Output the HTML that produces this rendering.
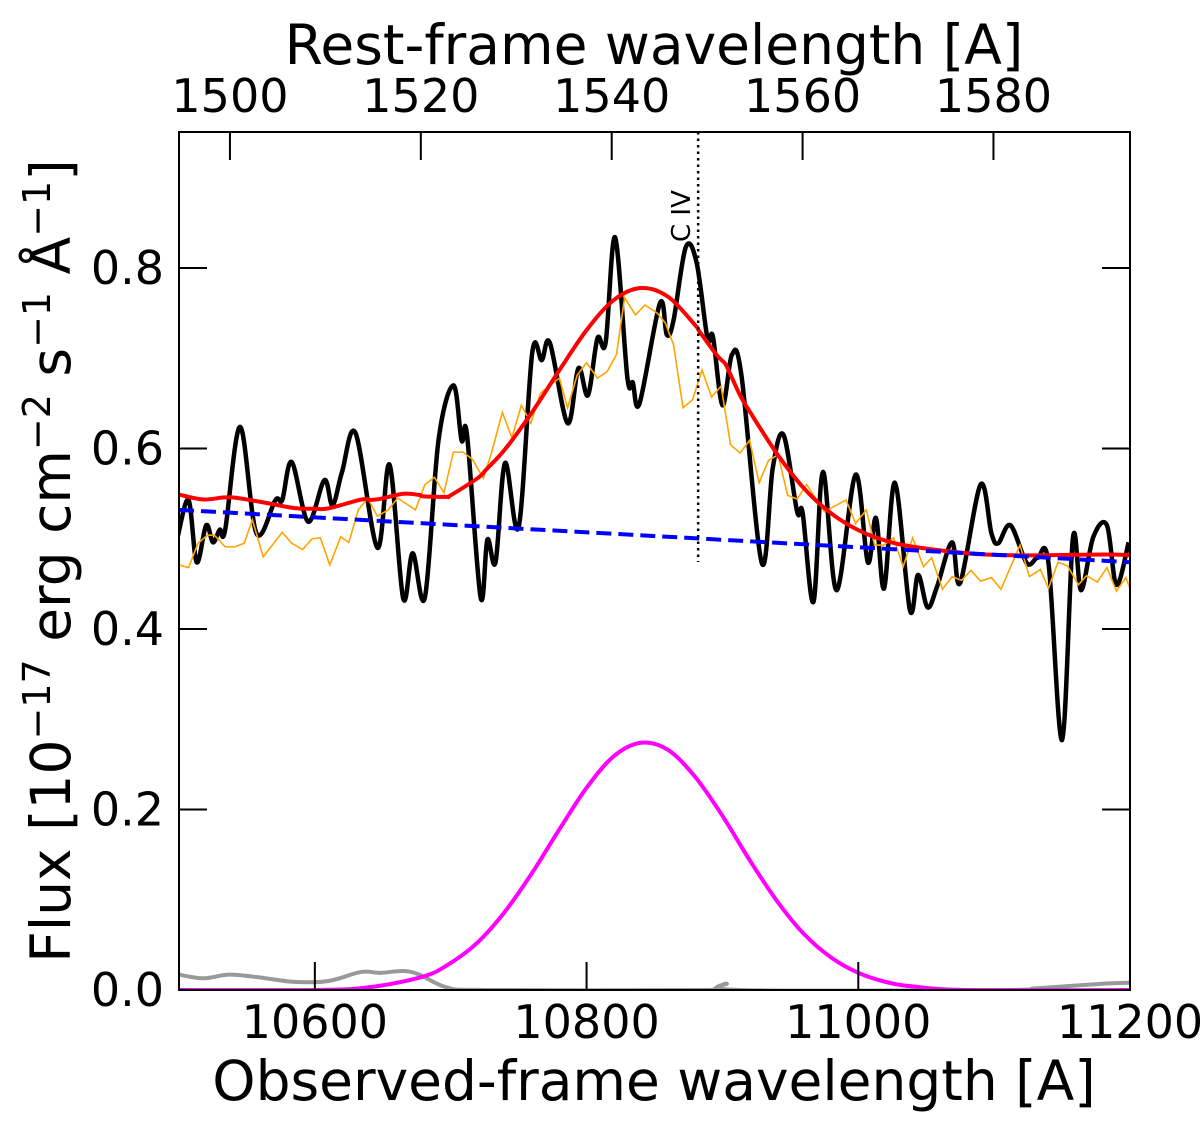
<!DOCTYPE html>
<html><head><meta charset="utf-8"><style>
html,body{margin:0;padding:0;background:#fff}
svg{display:block;font-family:"DejaVu Sans","Liberation Sans",sans-serif}
</style></head><body>
<svg id="chart" width="1200" height="1127" viewBox="0 0 1200 1127" xmlns="http://www.w3.org/2000/svg">
<g id="marks"></g>
<g id="axes"></g>
</svg>
<script>
const blackW=[10499,10507,10513,10520,10525,10530,10534,10545,10557,10571,10576,10583,10595,10607,10613,10620,10630,10646,10655,10665,10672,10681,10691,10702,10708,10712,10722,10727,10733,10740,10750,10760,10767,10773,10786,10794,10801,10808,10814,10821,10830,10834,10839,10854,10859,10864,10873,10881,10889,10893,10900,10907,10914,10929,10937,10945,10955,10959,10967,10974,10984,10998,11007,11013,11019,11027,11038,11044,11051,11058,11069,11075,11090,11098,11103,11112,11124,11132,11140,11150,11158,11164,11173,11183,11190,11199];
const blackF=[0.502,0.543,0.474,0.515,0.496,0.510,0.510,0.624,0.506,0.543,0.543,0.585,0.519,0.565,0.537,0.574,0.617,0.490,0.582,0.434,0.484,0.435,0.609,0.670,0.609,0.615,0.435,0.499,0.474,0.584,0.513,0.706,0.698,0.717,0.628,0.689,0.659,0.722,0.717,0.834,0.679,0.673,0.650,0.761,0.726,0.742,0.823,0.806,0.722,0.724,0.648,0.704,0.681,0.473,0.578,0.615,0.530,0.529,0.430,0.574,0.443,0.571,0.474,0.523,0.445,0.562,0.421,0.460,0.424,0.447,0.496,0.451,0.560,0.506,0.495,0.515,0.473,0.479,0.473,0.277,0.501,0.443,0.502,0.515,0.449,0.496];
const orangeW=[10500,10507,10514,10521,10526,10534,10541,10548,10554,10562,10576,10583,10591,10598,10604,10611,10619,10625,10632,10639,10646,10654,10661,10674,10681,10688,10695,10702,10709,10716,10724,10730,10738,10745,10752,10759,10766,10773,10780,10786,10793,10800,10808,10815,10822,10828,10836,10843,10852,10858,10864,10871,10878,10885,10892,10899,10906,10913,10920,10927,10934,10941,10948,10955,10962,10975,10991,10998,11006,11012,11019,11026,11033,11040,11048,11054,11062,11069,11076,11083,11090,11098,11105,11119,11126,11134,11140,11147,11154,11162,11168,11176,11183,11190,11197,11200];
const orangeF=[0.471,0.468,0.495,0.504,0.504,0.491,0.491,0.495,0.521,0.480,0.507,0.495,0.488,0.500,0.501,0.471,0.502,0.496,0.532,0.545,0.525,0.532,0.545,0.532,0.560,0.568,0.551,0.596,0.596,0.588,0.567,0.595,0.640,0.612,0.648,0.628,0.661,0.670,0.678,0.645,0.681,0.695,0.678,0.685,0.704,0.767,0.748,0.759,0.750,0.739,0.715,0.645,0.654,0.687,0.657,0.669,0.604,0.595,0.609,0.562,0.587,0.593,0.548,0.544,0.560,0.530,0.543,0.517,0.532,0.493,0.493,0.501,0.469,0.501,0.469,0.479,0.444,0.458,0.454,0.465,0.453,0.457,0.444,0.493,0.458,0.466,0.445,0.474,0.470,0.449,0.459,0.452,0.468,0.442,0.457,0.445];
const grayW=[10500,10518,10537,10559,10585,10610,10634,10648,10665,10677,10697,10726,10883,10895,10903,10913,11104,11132,11181,11200];
const grayF=[0.017,0.013,0.017,0.014,0.009,0.010,0.020,0.019,0.021,0.017,0.003,0,0,0.002,0.007,0,0,0.002,0.007,0.008];
const gaussW=[10500,10600,10640,10680,10700,10720,10740,10760,10780,10800,10820,10840,10860,10880,10900,10920,10940,10960,10980,11000,11020,11040,11080,11200];
const gaussF=[0,0,0.003,0.015,0.030,0.053,0.087,0.130,0.178,0.224,0.259,0.274,0.266,0.236,0.193,0.144,0.099,0.062,0.036,0.019,0.009,0.004,0,0];
const contW=[10500,11200];
const contF=[0.532,0.474];
const yTicks=[0,0.2,0.4,0.6,0.8];
const yTickLabels=["0.0","0.2","0.4","0.6","0.8"];
const xTicks=[10600,10800,11000,11200];
const restTicks=[1500,1520,1540,1560,1580];
const lineRest=1549.06;

const X0=179,X1=1130,Y0=990,Y1=132;
const WMIN=10500,WMAX=11200,FMIN=0,FMAX=0.9507;
const ZP1=7.025;
const sx=w=>X0+(w-WMIN)/(WMAX-WMIN)*(X1-X0);
const sy=f=>Y0-(f-FMIN)/(FMAX-FMIN)*(Y0-Y1);
const NS="http://www.w3.org/2000/svg";
const marks=document.getElementById('marks'),axes=document.getElementById('axes');
function mk(tag,attrs,parent){const e=document.createElementNS(NS,tag);for(const k in attrs)e.setAttribute(k,attrs[k]);parent.appendChild(e);return e;}
function interp(W,F,w){if(w<=W[0])return F[0];for(let i=1;i<W.length;i++){if(w<=W[i]){const t=(w-W[i-1])/(W[i]-W[i-1]);return F[i-1]+t*(F[i]-F[i-1]);}}return F[F.length-1];}
function smoothPath(W,F){const p=W.map((w,i)=>[sx(w),sy(F[i])]);let d=`M${p[0][0]},${p[0][1]}`;for(let i=0;i<p.length-1;i++){const a=p[Math.max(i-1,0)],b=p[i],c=p[i+1],e=p[Math.min(i+2,p.length-1)];const c1=[b[0]+(c[0]-a[0])/6,b[1]+(c[1]-a[1])/6],c2=[c[0]-(e[0]-b[0])/6,c[1]-(e[1]-b[1])/6];d+=`C${c1[0]},${c1[1]} ${c2[0]},${c2[1]} ${c[0]},${c[1]}`;}return d;}
function polyPath(W,F){return W.map((w,i)=>(i?'L':'M')+sx(w)+','+sy(F[i])).join('');}

mk('clipPath',{id:'clip'},marks).appendChild(document.createElementNS(NS,'rect'));
const cr=marks.querySelector('#clip rect');cr.setAttribute('x',X0);cr.setAttribute('y',Y1);cr.setAttribute('width',X1-X0);cr.setAttribute('height',Y0-Y1);
const g=mk('g',{'clip-path':'url(#clip)'},marks);

let p=mk('path',{d:smoothPath(grayW,grayF),fill:'none',stroke:'#999',"stroke-width":4},g);


p=mk('path',{d:smoothPath(gaussW,gaussF),fill:'none',stroke:'#ff00ff',"stroke-width":4},g);


p=mk('path',{d:smoothPath(blackW,blackF),fill:'none',stroke:'#000',"stroke-width":4.5,"stroke-linejoin":"round"},g);


p=mk('path',{d:polyPath(orangeW,orangeF),fill:'none',stroke:'#ffa500',"stroke-width":1.6},g);


const modelW=Array.from(new Set(gaussW.concat(grayW))).sort((a,b)=>a-b);
const modelF=modelW.map(w=>interp(contW,contF,w)+interp(gaussW,gaussF,w)+interp(grayW,grayF,w));
p=mk('path',{d:smoothPath(modelW,modelF),fill:'none',stroke:'#ff0000',"stroke-width":4},g);


p=mk('path',{d:polyPath(contW,contF),fill:'none',stroke:'#0000ff',"stroke-width":4,"stroke-dasharray":"15,7"},g);


const lx=sx(lineRest*ZP1);
p=mk('line',{x1:lx,x2:lx,y1:Y1,y2:562,stroke:'#000',"stroke-width":2.5,"stroke-dasharray":"2.5,4"},g);


let t=mk('text',{x:0,y:0,"font-size":26,transform:`translate(${lx-8},242) rotate(-90)`},marks);t.textContent='C IV';



const fr=mk('rect',{x:X0,y:Y1,width:X1-X0,height:Y0-Y1,fill:'none',stroke:'#000',"stroke-width":2},axes);


yTicks.forEach((v,i)=>{const y=sy(v);
 mk('line',{x1:X0,x2:X0+28,y1:y,y2:y,stroke:'#000',"stroke-width":2},axes);
 mk('line',{x1:X1-28,x2:X1,y1:y,y2:y,stroke:'#000',"stroke-width":2},axes);
 const tt=mk('text',{x:164,y:y+16,"font-size":46,"text-anchor":"end"},axes);tt.textContent=yTickLabels[i];
 
 });
xTicks.forEach(v=>{const x=sx(v);
 mk('line',{x1:x,x2:x,y1:Y0-28,y2:Y0,stroke:'#000',"stroke-width":2},axes);
 const tt=mk('text',{x:x,y:1038,"font-size":46,"text-anchor":"middle"},axes);tt.textContent=v;
 
 });
restTicks.forEach(v=>{const x=sx(v*ZP1);
 mk('line',{x1:x,x2:x,y1:Y1,y2:Y1+28,stroke:'#000',"stroke-width":2},axes);
 const tt=mk('text',{x:x,y:112,"font-size":46,"text-anchor":"middle"},axes);tt.textContent=v;
 
 });
</script>
<svg style="position:absolute;left:0;top:0" width="1200" height="1127" xmlns="http://www.w3.org/2000/svg" font-family="DejaVu Sans, Liberation Sans, sans-serif">
<text x="654" y="1100" font-size="55" text-anchor="middle">Observed-frame wavelength [A]</text>
<text x="654" y="64" font-size="55" text-anchor="middle">Rest-frame wavelength [A]</text>
<text transform="translate(70,561) rotate(-90)" font-size="55" text-anchor="middle">Flux [10<tspan dy="-20" font-size="38">−17</tspan><tspan dy="20"> erg cm</tspan><tspan dy="-20" font-size="38">−2</tspan><tspan dy="20"> s</tspan><tspan dy="-20" font-size="38">−1</tspan><tspan dy="20"> Å</tspan><tspan dy="-20" font-size="38">−1</tspan><tspan dy="20">]</tspan></text>
</svg>
</body></html>
